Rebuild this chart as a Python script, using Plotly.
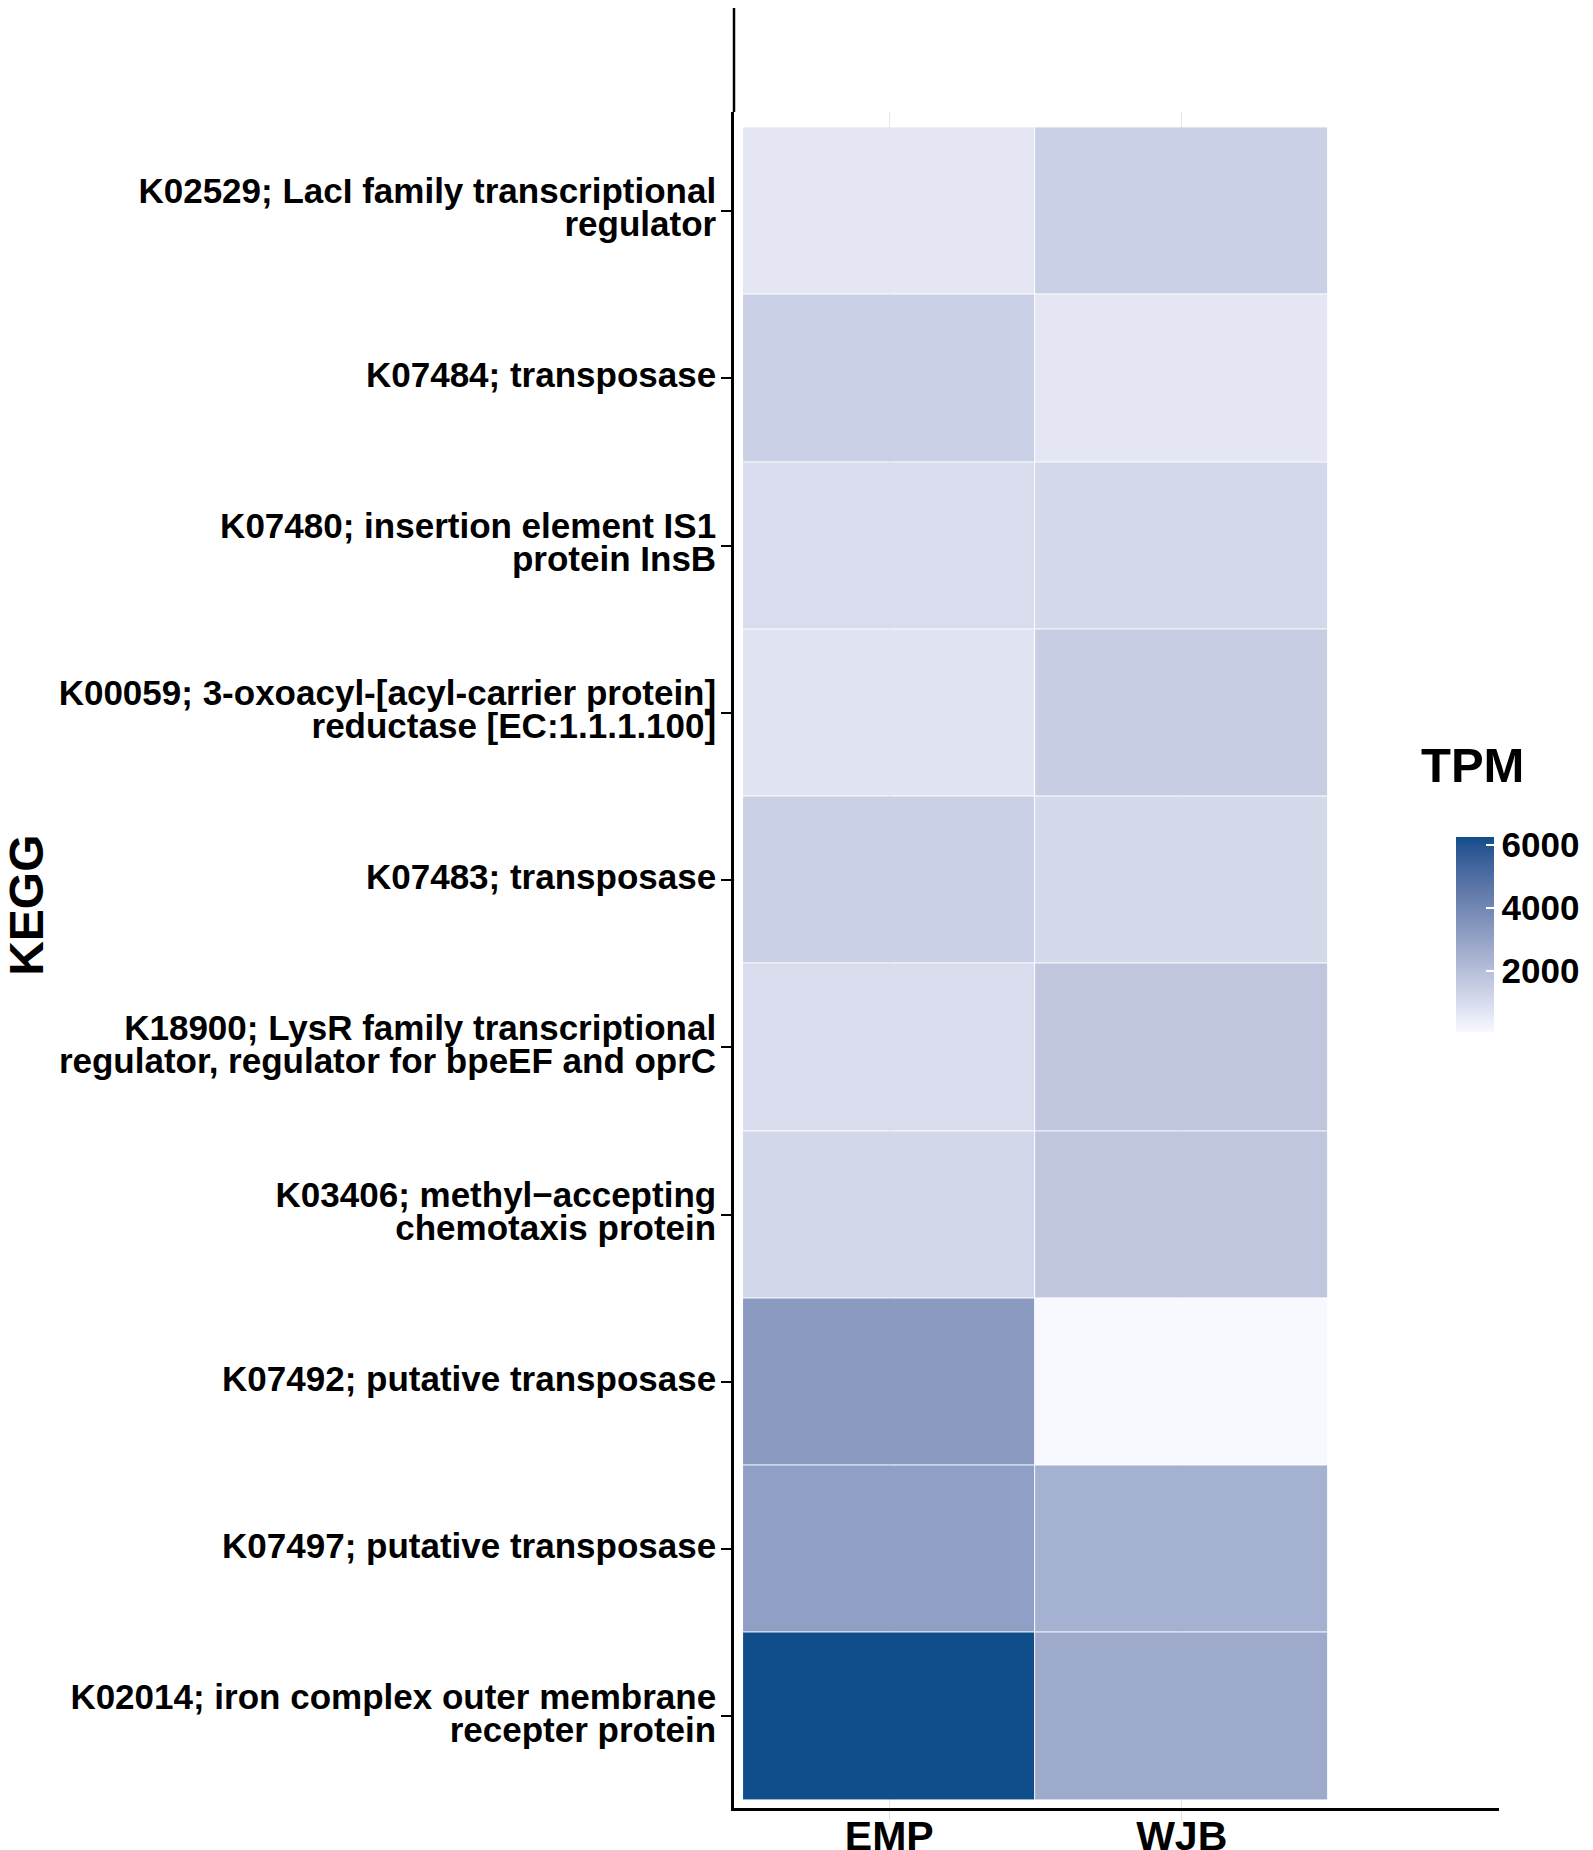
import plotly.graph_objects as go

# data, top row first
kegg = [
    "K02529; LacI family transcriptional\nregulator",
    "K07484; transposase",
    "K07480; insertion element IS1\nprotein InsB",
    "K00059; 3-oxoacyl-[acyl-carrier protein]\nreductase [EC:1.1.1.100]",
    "K07483; transposase",
    "K18900; LysR family transcriptional\nregulator, regulator for bpeEF and oprC",
    "K03406; methyl\u2212accepting\nchemotaxis protein",
    "K07492; putative transposase",
    "K07497; putative transposase",
    "K02014; iron complex outer membrane\nrecepter protein",
]
samples = ["EMP", "WJB"]
tpm_emp = [650, 1420, 1000, 730, 1420, 1000, 1180, 3300, 3130, 6254]
tpm_wjb = [1410, 650, 1140, 1510, 1070, 1750, 1720, 63, 2520, 2740]
cbar_ticks = [2000, 4000, 6000]


# ggplot-like gradient (interpolated in Lab)
def to_lab(h):
    rgb = [int(h[i:i + 2], 16) / 255 for i in (1, 3, 5)]
    lin = [c / 12.92 if c <= 0.04045 else ((c + 0.055) / 1.055) ** 2.4 for c in rgb]
    r, g, b = lin
    x = (0.4124 * r + 0.3576 * g + 0.1805 * b) / 0.95047
    y = 0.2126 * r + 0.7152 * g + 0.0722 * b
    z = (0.0193 * r + 0.1192 * g + 0.9505 * b) / 1.08883
    f = lambda t: t ** (1 / 3) if t > 0.008856 else 7.787 * t + 16 / 116
    fx, fy, fz = f(x), f(y), f(z)
    return [116 * fy - 16, 500 * (fx - fy), 200 * (fy - fz)]


def from_lab(lab):
    L, a, b = lab
    fy = (L + 16) / 116
    fx = fy + a / 500
    fz = fy - b / 200
    fi = lambda t: t ** 3 if t ** 3 > 0.008856 else (t - 16 / 116) / 7.787
    x, y, z = fi(fx) * 0.95047, fi(fy), fi(fz) * 1.08883
    r = 3.2406 * x - 1.5372 * y - 0.4986 * z
    g = -0.9689 * x + 1.8758 * y + 0.0415 * z
    bb = 0.0557 * x - 0.2040 * y + 1.0570 * z
    out = []
    for c in (r, g, bb):
        c = 12.92 * c if c <= 0.0031308 else 1.055 * c ** (1 / 2.4) - 0.055
        out.append(max(0, min(255, round(c * 255))))
    return "rgb(%d,%d,%d)" % tuple(out)


lo, hi = to_lab("#F8F8FF"), to_lab("#104E8B")
colorscale = [[i / 20, from_lab([lo[k] + (hi[k] - lo[k]) * i / 20 for k in range(3)])] for i in range(21)]

font = "Liberation Sans, Arial, sans-serif"

# tick text: small base size keeps the line spacing tight, spans set the glyph size
ticktext = ["<br>".join("<span style='font-size:35px'>%s</span>" % ln for ln in lab.split("\n"))
            for lab in kegg]

fig = go.Figure(go.Heatmap(
    x=samples,
    y=kegg,
    z=[[e, w] for e, w in zip(tpm_emp, tpm_wjb)],
    colorscale=colorscale,
    xgap=1, ygap=1,
    colorbar=dict(
        thickness=38, len=195, lenmode="pixels",
        x=0.944, xanchor="left", xpad=0,
        y=0.515, yanchor="middle", ypad=0,
        outlinewidth=0,
        tickvals=cbar_ticks, ticks="inside", tickcolor="white", ticklen=8, tickwidth=1.5,
        tickfont=dict(family=font, size=35, color="black", weight="bold"),
    ),
))

fig.add_annotation(x=-0.924, xref="paper", y=0.532, yref="paper", text="KEGG",
                   textangle=-90, showarrow=False, xanchor="center", yanchor="middle",
                   font=dict(family=font, size=48, color="black", weight="bold"))
fig.add_annotation(x=0.966, xref="paper", y=0.615, yref="paper", text="TPM",
                   showarrow=False, xanchor="center", yanchor="middle",
                   font=dict(family=font, size=49, color="black", weight="bold"))

# y axis line continues to the top of the page
fig.add_shape(type="line", xref="paper", yref="paper", x0=0, x1=0, y0=1, y1=1 + 104 / 1696,
              line=dict(color="black", width=2.5))

fig.update_layout(
    width=1585, height=1842,
    margin=dict(l=726, r=94, t=104, b=42, autoexpand=False),
    plot_bgcolor="white", paper_bgcolor="white",
    xaxis=dict(
        range=[-0.531, 2.085], showline=True, linecolor="black", linewidth=2.5,
        showgrid=True, gridcolor="#E6E6E6", gridwidth=1, zeroline=False,
        ticks="outside", ticklen=9, tickcolor="#E0E0E0", automargin=False,
        ticklabelstandoff=-19,
        tickfont=dict(family=font, size=41, color="black", weight="bold"),
    ),
    yaxis=dict(
        range=[9.548, -0.592], showline=True, linecolor="black", linewidth=2.5,
        showgrid=False, zeroline=False, automargin=False,
        tickmode="array", tickvals=kegg, ticktext=ticktext,
        tickfont=dict(family=font, size=25.4, color="black", weight="bold"),
        ticks="outside", ticklen=10, tickcolor="black", tickwidth=2,
    ),
)

fig.write_html("out.html")
